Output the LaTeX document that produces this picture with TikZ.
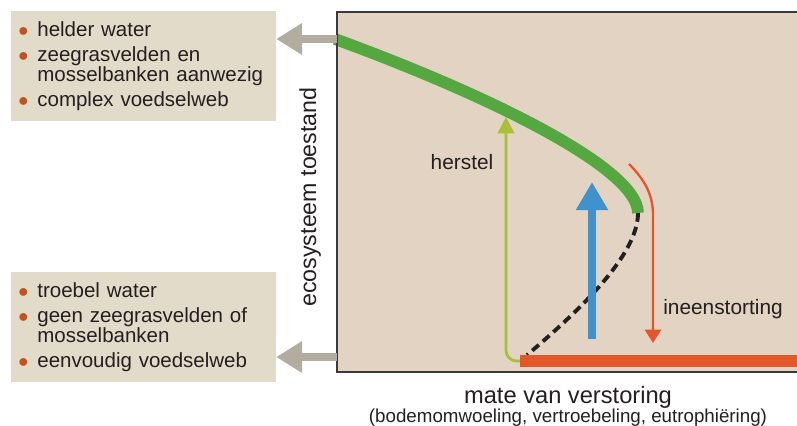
\documentclass[tikz,border=0pt]{standalone}
\usepackage{fontspec}
\setmainfont{Liberation Sans}
\usetikzlibrary{arrows.meta,positioning}
\definecolor{bg}{HTML}{E2D3C3}
\definecolor{boxfill}{HTML}{E3DBC9}
\definecolor{framec}{HTML}{3C3A38}
\definecolor{goodc}{HTML}{55A83F}
\definecolor{badc}{HTML}{E4572A}
\definecolor{limec}{HTML}{A9BF35}
\definecolor{bluec}{HTML}{4192CC}
\definecolor{grayc}{HTML}{B3AD9F}
\definecolor{dot}{HTML}{C25220}
\definecolor{ink}{HTML}{231F20}
\tikzset{
  infobox/.style ={fill=boxfill,text=ink,text width=214pt,inner xsep=6pt,
                   inner ysep=0pt,align=left,anchor=north west,
                   font=\fontsize{17.5}{17}\selectfont},
  lbl/.style     ={text=ink,inner sep=0pt,anchor=base,
                   font=\fontsize{17.8}{18}\selectfont},
  back/.style    ={grayc,line width=6.8pt,-{Triangle[length=22pt,width=25.6pt]}},
  stable/.style  ={line width=10pt},
  unstable/.style={ink,line width=3.3pt,dash pattern=on 7.5pt off 4.5pt},
  thin/.style    ={line width=2.3pt},
}
\newcommand{\itm}{\makebox[16.3pt][l]{\textcolor{dot}{$\bullet$}}}
\newcommand{\hng}{\hspace*{16.3pt}}

\begin{document}
\begin{tikzpicture}[x=0.03cm,y=-0.03cm]
\useasboundingbox (0,0) rectangle (797,425);
% plot area
\fill[bg] (337,12) rectangle (797,372);
\coordinate (hi) at (335,39);
\coordinate (fold) at (638,213);
\coordinate (lo) at (520,361);
\coordinate (loend) at (797,361);
% herstel
\draw[thin,limec,rounded corners=9pt,-{Triangle[length=14pt,width=14pt]}]
  (lo) -| (506,117);
% branches
\draw[unstable] (fold) .. controls (638,255) and (580,310) .. (527,355);
\draw[stable,goodc] (hi) .. controls (487,94.5) and (638,168) .. (fold);
\draw[stable,badc,line width=10.6pt] (lo) -- (loend);
% blue push
\draw[bluec,line width=7pt,-{Triangle[length=24pt,width=26pt]}]
  (592,339) -- (592,182);
% ineenstorting
\draw[thin,badc,line width=2pt,-{Triangle[length=11.5pt,width=14pt]}]
  (629,164) .. controls (645,180) and (653,195) .. (653,215) -- (653,343);
\draw[framec,line width=1.3pt] (797,12) -- (337,12) -- (337,372) -- (797,372);
% state boxes
\node[infobox,minimum height=93.9pt] (clear) at (11,11)
  {\itm helder water\\[4pt]
   \itm zeegrasvelden en\\ \hng mosselbanken aanwezig\\[4pt]
   \itm complex voedselweb};
\node[infobox,minimum height=93.9pt] (turbid) at (11,272)
  {\itm troebel water\\[4pt]
   \itm geen zeegrasvelden of\\ \hng mosselbanken\\[4pt]
   \itm eenvoudig voedselweb};
\coordinate (lohook) at (337,357);
\draw[back] (337,39) -- (clear.east |- hi);
\draw[back] (lohook) -- (turbid.east |- lohook);
% labels
\node[lbl] (rec) at (462,169) {herstel};
\node[lbl] (col) at (723,314) {ineenstorting};
\node[lbl,rotate=90,font=\fontsize{19.8}{20}\selectfont] (ylab) at (316,197) {ecosysteem toestand};
\node[lbl,align=center,font=\fontsize{20.2}{20}\selectfont] (xlab) at (568,422)
  {mate van verstoring\\[-4.2pt]
   {\fontsize{16}{16}\selectfont (bodemomwoeling, vertroebeling, eutrophiëring)}};
\end{tikzpicture}
\end{document}
